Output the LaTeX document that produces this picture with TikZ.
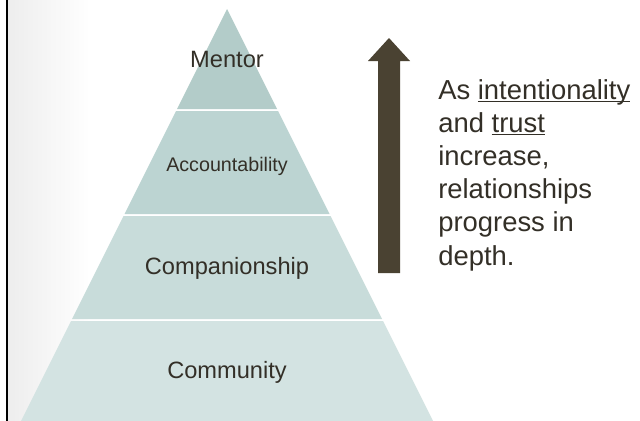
\documentclass[tikz,border=0pt]{standalone}
\usepackage{fontspec}
\setmainfont{Liberation Sans}
\usetikzlibrary{positioning}
\definecolor{ctop}{HTML}{B3CCC9}
\definecolor{cacc}{HTML}{BCD4D2}
\definecolor{ccomp}{HTML}{C8DCDA}
\definecolor{ccomm}{HTML}{D3E3E2}
\definecolor{cbrown}{HTML}{4A4232}
\definecolor{cink}{HTML}{332F27}
\tikzset{
  every picture/.style={x=0.025cm, y=-0.025cm},
  tier/.style={text=cink, anchor=base, font=\fontsize{16.8pt}{20pt}\selectfont},
  small tier/.style={tier, font=\fontsize{14pt}{17pt}\selectfont},
  side/.style={text=cink, anchor=base west, inner sep=0pt, font=\fontsize{19.5pt}{23pt}\selectfont},
}
% one level of the pyramid: name, top, bottom, colour, style, label, label baseline
\newcommand{\level}[7]{
  \fill[#4] (227-0.5*#2+4.5,#2) -- (227+0.5*#2-4.5,#2) -- (227+0.5*#3-4.5,#3) -- (227-0.5*#3+4.5,#3) -- cycle;
  \node[#5] (#1) at (227,#7) {#6};
}
\newcommand{\uln}[1]{\setbox0\hbox{#1}\rlap{\rule[-0.12em]{\wd0}{0.065em}}\box0}

\begin{document}
\begin{tikzpicture}
  \useasboundingbox (0,0) rectangle (640,421);
  % slide background
  \fill[white] (0,0) rectangle (640,421);
  \shade[left color=black!7, right color=white] (8,0) rectangle (90,421);
  \draw[black, line width=2pt] (7,0) -- (7,421);
  % pyramid
  \level{mentor}{9}{109}{ctop}{tier}{Mentor}{67}
  \level{account}{111}{214}{cacc}{small tier}{Accountability}{171}
  \level{compan}{216}{319}{ccomp}{tier}{Companionship}{274}
  \level{commun}{321}{421}{ccomm}{tier}{Community}{378}
  % upward arrow
  \coordinate (tip) at (389,38);
  \fill[cbrown] (tip) -- (410,61) -- (400,61) -- (400,273) -- (378,273) -- (378,61) -- (368,61) -- cycle;
  % side note
  \foreach \t [count=\i] in {As \uln{intentionality}, and \uln{trust}, {increase,}, relationships, progress in, depth.} {
    \node[side] (note\i) at (438,99+33.2*\i-33.2) {\t};
  }
\end{tikzpicture}
\end{document}
